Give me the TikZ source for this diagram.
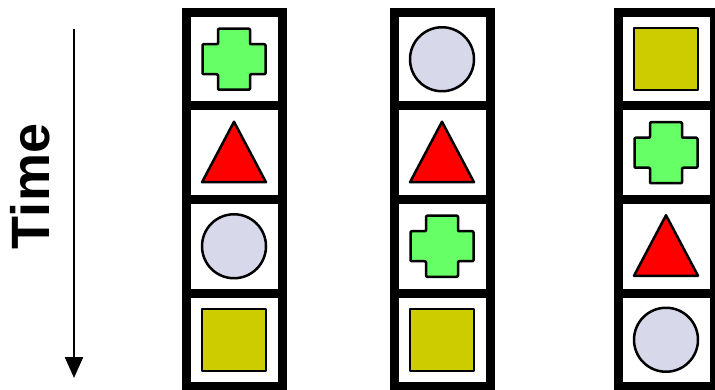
\documentclass[tikz,border=0pt]{standalone}
\usepackage{fontspec}
\setmainfont{Liberation Sans}
\usetikzlibrary{arrows.meta}

\definecolor{plusgreen}{RGB}{102,255,102}
\definecolor{tribred}{RGB}{255,0,0}
\definecolor{disclav}{RGB}{216,216,235}
\definecolor{sqolive}{RGB}{204,204,0}

\begin{document}
\begin{tikzpicture}[x=1pt,y=-1pt,>={Triangle[width=18pt,length=21pt]},
  cell/.style={draw,line width=9pt,minimum width=96pt,minimum height=93.5pt,inner sep=0pt},
  figure/.style={draw,line width=2.5pt,line join=round}]
\useasboundingbox (0,0) rectangle (715,390);

% the three columns of cells
\node[cell] (a1) at (234,59.25) {};
\node[cell] (a2) at (234,152.75) {};
\node[cell] (a3) at (234,246.25) {};
\node[cell] (a4) at (234,339.75) {};

\node[cell] (b1) at (442,59.25) {};
\node[cell] (b2) at (442,152.75) {};
\node[cell] (b3) at (442,246.25) {};
\node[cell] (b4) at (442,339.75) {};

\node[cell] (c1) at (666,59.25) {};
\node[cell] (c2) at (666,152.75) {};
\node[cell] (c3) at (666,246.25) {};
\node[cell] (c4) at (666,339.75) {};

% shapes inside the cells
\foreach \p in {a1,b3,c2}
  \draw[figure,fill=plusgreen,shift={(\p)},rounded corners=1pt]
    (-16,-30.5) -- (16,-30.5) -- (16,-15) -- (31.5,-15) -- (31.5,15) -- (16,15)
    -- (16,30.5) -- (-16,30.5) -- (-16,15) -- (-31.5,15) -- (-31.5,-15) -- (-16,-15) -- cycle;
\foreach \p in {a2,b2,c3}
  \draw[figure,fill=tribred,shift={(\p)}] (0,-31) -- (32,29.5) -- (-32,29.5) -- cycle;
\foreach \p in {a3,b1,c4}
  \draw[figure,fill=disclav,shift={(\p)}] (0,0) circle[radius=32pt];
\foreach \p in {a4,b4,c1}
  \draw[figure,fill=sqolive,shift={(\p)}] (-32,-31) rectangle (32,31);

% time axis
\coordinate (t0) at (74,29);
\coordinate (t1) at (74,378);
\draw[->,line width=2.3pt] (t0) -- (t1);
\node[rotate=90,font=\fontsize{54}{54}\selectfont\bfseries] (time) at (30,186.5) {Time};
\end{tikzpicture}
\end{document}
